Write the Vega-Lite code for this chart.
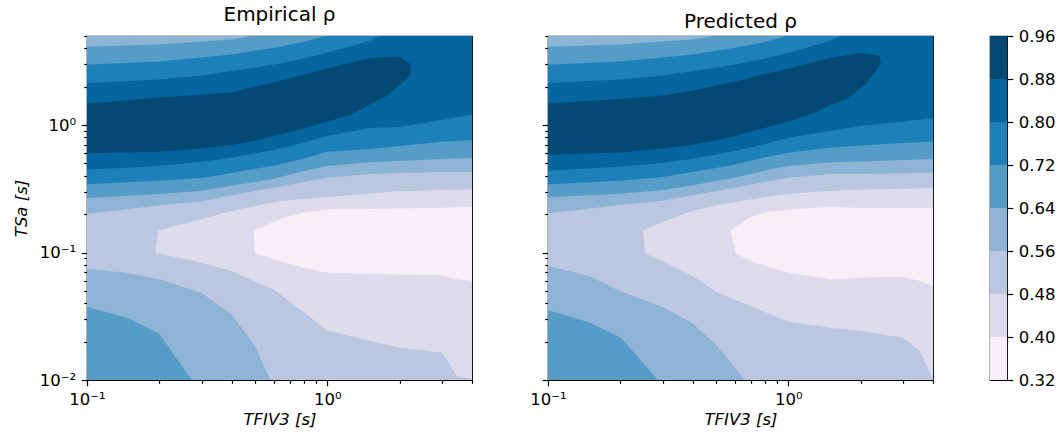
{
"$schema":"https://vega.github.io/schema/vega-lite/v6.json",
"padding":{"left":12,"top":4,"right":5,"bottom":5},
"background":"white",
"config":{
 "font":"DejaVu Sans",
 "view":{"stroke":"#000","strokeWidth":1.2},
 "axis":{"labelFont":"DejaVu Sans","titleFont":"DejaVu Sans","labelFontSize":16.5,"titleFontSize":16.5,"labelColor":"#000","titleColor":"#000","tickColor":"#000","tickWidth":1.2,"domain":false,"grid":false,"titleFontWeight":"normal","labelPadding":5.5},
 "title":{"font":"DejaVu Sans","fontSize":20,"fontWeight":"normal","color":"#000","offset":3}
},
"datasets":{
"bar":[{"lo":0.32,"hi":0.4},{"lo":0.4,"hi":0.48},{"lo":0.48,"hi":0.56},{"lo":0.56,"hi":0.64},{"lo":0.64,"hi":0.72},{"lo":0.72,"hi":0.8},{"lo":0.8,"hi":0.88},{"lo":0.88,"hi":0.96}],
"poly":[
{"s":"E","g":"Eb","lo":0.48,"i":0,"x":0.1,"y":0.01},{"s":"E","g":"Eb","lo":0.48,"i":1,"x":4,"y":0.01},{"s":"E","g":"Eb","lo":0.48,"i":2,"x":4,"y":5},{"s":"E","g":"Eb","lo":0.48,"i":3,"x":0.1,"y":5},
{"s":"E","g":"Eu56","lo":0.56,"i":0,"x":0.1,"y":0.2016},{"s":"E","g":"Eu56","lo":0.56,"i":1,"x":0.2,"y":0.234},{"s":"E","g":"Eu56","lo":0.56,"i":2,"x":0.3,"y":0.253},{"s":"E","g":"Eu56","lo":0.56,"i":3,"x":0.4,"y":0.281},{"s":"E","g":"Eu56","lo":0.56,"i":4,"x":0.5,"y":0.304},{"s":"E","g":"Eu56","lo":0.56,"i":5,"x":0.6,"y":0.3225},{"s":"E","g":"Eu56","lo":0.56,"i":6,"x":0.8,"y":0.359},{"s":"E","g":"Eu56","lo":0.56,"i":7,"x":1,"y":0.386},{"s":"E","g":"Eu56","lo":0.56,"i":8,"x":1.5,"y":0.413},{"s":"E","g":"Eu56","lo":0.56,"i":9,"x":2,"y":0.42},{"s":"E","g":"Eu56","lo":0.56,"i":10,"x":3,"y":0.428},{"s":"E","g":"Eu56","lo":0.56,"i":11,"x":4,"y":0.4305},{"s":"E","g":"Eu56","lo":0.56,"i":12,"x":4,"y":5},{"s":"E","g":"Eu56","lo":0.56,"i":13,"x":0.1,"y":5},
{"s":"E","g":"El56","lo":0.56,"i":0,"x":0.1,"y":0.0747},{"s":"E","g":"El56","lo":0.56,"i":1,"x":0.144,"y":0.0695},{"s":"E","g":"El56","lo":0.56,"i":2,"x":0.2,"y":0.0616},{"s":"E","g":"El56","lo":0.56,"i":3,"x":0.3,"y":0.0481},{"s":"E","g":"El56","lo":0.56,"i":4,"x":0.4,"y":0.0327},{"s":"E","g":"El56","lo":0.56,"i":5,"x":0.5,"y":0.01847},{"s":"E","g":"El56","lo":0.56,"i":6,"x":0.5788,"y":0.01},{"s":"E","g":"El56","lo":0.56,"i":7,"x":0.1,"y":0.01},
{"s":"E","g":"Eu64","lo":0.64,"i":0,"x":0.1,"y":0.268},{"s":"E","g":"Eu64","lo":0.64,"i":1,"x":0.2,"y":0.288},{"s":"E","g":"Eu64","lo":0.64,"i":2,"x":0.3,"y":0.305},{"s":"E","g":"Eu64","lo":0.64,"i":3,"x":0.4,"y":0.334},{"s":"E","g":"Eu64","lo":0.64,"i":4,"x":0.5,"y":0.357},{"s":"E","g":"Eu64","lo":0.64,"i":5,"x":0.6,"y":0.379},{"s":"E","g":"Eu64","lo":0.64,"i":6,"x":0.8,"y":0.436},{"s":"E","g":"Eu64","lo":0.64,"i":7,"x":1,"y":0.477},{"s":"E","g":"Eu64","lo":0.64,"i":8,"x":1.5,"y":0.51},{"s":"E","g":"Eu64","lo":0.64,"i":9,"x":2,"y":0.522},{"s":"E","g":"Eu64","lo":0.64,"i":10,"x":3,"y":0.541},{"s":"E","g":"Eu64","lo":0.64,"i":11,"x":4,"y":0.551},{"s":"E","g":"Eu64","lo":0.64,"i":12,"x":4,"y":5},{"s":"E","g":"Eu64","lo":0.64,"i":13,"x":0.4854,"y":5},{"s":"E","g":"Eu64","lo":0.64,"i":14,"x":0.4,"y":4.697},{"s":"E","g":"Eu64","lo":0.64,"i":15,"x":0.3,"y":4.532},{"s":"E","g":"Eu64","lo":0.64,"i":16,"x":0.2,"y":4.293},{"s":"E","g":"Eu64","lo":0.64,"i":17,"x":0.1,"y":4.116},
{"s":"E","g":"El64","lo":0.64,"i":0,"x":0.1,"y":0.0374},{"s":"E","g":"El64","lo":0.64,"i":1,"x":0.1487,"y":0.0305},{"s":"E","g":"El64","lo":0.64,"i":2,"x":0.2,"y":0.023},{"s":"E","g":"El64","lo":0.64,"i":3,"x":0.2729,"y":0.01},{"s":"E","g":"El64","lo":0.64,"i":4,"x":0.1,"y":0.01},
{"s":"E","g":"Eu72","lo":0.72,"i":0,"x":0.1,"y":0.344},{"s":"E","g":"Eu72","lo":0.72,"i":1,"x":0.2,"y":0.366},{"s":"E","g":"Eu72","lo":0.72,"i":2,"x":0.3,"y":0.384},{"s":"E","g":"Eu72","lo":0.72,"i":3,"x":0.4,"y":0.42},{"s":"E","g":"Eu72","lo":0.72,"i":4,"x":0.5,"y":0.4545},{"s":"E","g":"Eu72","lo":0.72,"i":5,"x":0.6,"y":0.48},{"s":"E","g":"Eu72","lo":0.72,"i":6,"x":0.8,"y":0.548},{"s":"E","g":"Eu72","lo":0.72,"i":7,"x":1,"y":0.618},{"s":"E","g":"Eu72","lo":0.72,"i":8,"x":1.5,"y":0.648},{"s":"E","g":"Eu72","lo":0.72,"i":9,"x":2,"y":0.684},{"s":"E","g":"Eu72","lo":0.72,"i":10,"x":3,"y":0.74},{"s":"E","g":"Eu72","lo":0.72,"i":11,"x":4,"y":0.763},{"s":"E","g":"Eu72","lo":0.72,"i":12,"x":4,"y":5},{"s":"E","g":"Eu72","lo":0.72,"i":13,"x":0.981,"y":5},{"s":"E","g":"Eu72","lo":0.72,"i":14,"x":0.8,"y":4.477},{"s":"E","g":"Eu72","lo":0.72,"i":15,"x":0.6,"y":4.042},{"s":"E","g":"Eu72","lo":0.72,"i":16,"x":0.5,"y":3.828},{"s":"E","g":"Eu72","lo":0.72,"i":17,"x":0.4,"y":3.583},{"s":"E","g":"Eu72","lo":0.72,"i":18,"x":0.3,"y":3.395},{"s":"E","g":"Eu72","lo":0.72,"i":19,"x":0.2,"y":3.158},{"s":"E","g":"Eu72","lo":0.72,"i":20,"x":0.1,"y":2.973},
{"s":"E","g":"Eu80","lo":0.8,"i":0,"x":0.1,"y":0.4463},{"s":"E","g":"Eu80","lo":0.8,"i":1,"x":0.2,"y":0.477},{"s":"E","g":"Eu80","lo":0.8,"i":2,"x":0.3,"y":0.516},{"s":"E","g":"Eu80","lo":0.8,"i":3,"x":0.4,"y":0.554},{"s":"E","g":"Eu80","lo":0.8,"i":4,"x":0.5,"y":0.6},{"s":"E","g":"Eu80","lo":0.8,"i":5,"x":0.6,"y":0.637},{"s":"E","g":"Eu80","lo":0.8,"i":6,"x":0.8,"y":0.727},{"s":"E","g":"Eu80","lo":0.8,"i":7,"x":1,"y":0.82},{"s":"E","g":"Eu80","lo":0.8,"i":8,"x":1.5,"y":0.947},{"s":"E","g":"Eu80","lo":0.8,"i":9,"x":2,"y":0.964},{"s":"E","g":"Eu80","lo":0.8,"i":10,"x":3,"y":1.094},{"s":"E","g":"Eu80","lo":0.8,"i":11,"x":4,"y":1.205},{"s":"E","g":"Eu80","lo":0.8,"i":12,"x":4,"y":5},{"s":"E","g":"Eu80","lo":0.8,"i":13,"x":1.636,"y":5},{"s":"E","g":"Eu80","lo":0.8,"i":14,"x":1.5,"y":4.585},{"s":"E","g":"Eu80","lo":0.8,"i":15,"x":1,"y":3.693},{"s":"E","g":"Eu80","lo":0.8,"i":16,"x":0.8,"y":3.334},{"s":"E","g":"Eu80","lo":0.8,"i":17,"x":0.6,"y":2.991},{"s":"E","g":"Eu80","lo":0.8,"i":18,"x":0.5,"y":2.816},{"s":"E","g":"Eu80","lo":0.8,"i":19,"x":0.4,"y":2.652},{"s":"E","g":"Eu80","lo":0.8,"i":20,"x":0.3,"y":2.452},{"s":"E","g":"Eu80","lo":0.8,"i":21,"x":0.2,"y":2.281},{"s":"E","g":"Eu80","lo":0.8,"i":22,"x":0.1,"y":2.135},
{"s":"E","g":"Eb88","lo":0.88,"i":0,"x":0.1,"y":1.479},{"s":"E","g":"Eb88","lo":0.88,"i":1,"x":0.2,"y":1.648},{"s":"E","g":"Eb88","lo":0.88,"i":2,"x":0.3,"y":1.74},{"s":"E","g":"Eb88","lo":0.88,"i":3,"x":0.4,"y":1.804},{"s":"E","g":"Eb88","lo":0.88,"i":4,"x":0.5,"y":2.011},{"s":"E","g":"Eb88","lo":0.88,"i":5,"x":0.6,"y":2.161},{"s":"E","g":"Eb88","lo":0.88,"i":6,"x":0.8,"y":2.497},{"s":"E","g":"Eb88","lo":0.88,"i":7,"x":1,"y":2.782},{"s":"E","g":"Eb88","lo":0.88,"i":8,"x":1.5,"y":3.354},{"s":"E","g":"Eb88","lo":0.88,"i":9,"x":2,"y":3.456},{"s":"E","g":"Eb88","lo":0.88,"i":10,"x":2.217,"y":3.009},{"s":"E","g":"Eb88","lo":0.88,"i":11,"x":2.217,"y":2.437},{"s":"E","g":"Eb88","lo":0.88,"i":12,"x":2,"y":2.072},{"s":"E","g":"Eb88","lo":0.88,"i":13,"x":1.773,"y":1.698},{"s":"E","g":"Eb88","lo":0.88,"i":14,"x":1.5,"y":1.452},{"s":"E","g":"Eb88","lo":0.88,"i":15,"x":1.267,"y":1.219},{"s":"E","g":"Eb88","lo":0.88,"i":16,"x":1,"y":1.068},{"s":"E","g":"Eb88","lo":0.88,"i":17,"x":0.8,"y":0.941},{"s":"E","g":"Eb88","lo":0.88,"i":18,"x":0.6,"y":0.82},{"s":"E","g":"Eb88","lo":0.88,"i":19,"x":0.5,"y":0.7536},{"s":"E","g":"Eb88","lo":0.88,"i":20,"x":0.4,"y":0.6967},{"s":"E","g":"Eb88","lo":0.88,"i":21,"x":0.3,"y":0.656},{"s":"E","g":"Eb88","lo":0.88,"i":22,"x":0.2,"y":0.618},{"s":"E","g":"Eb88","lo":0.88,"i":23,"x":0.1,"y":0.6},
{"s":"E","g":"Ev40","lo":0.4,"i":0,"x":4,"y":0.313},{"s":"E","g":"Ev40","lo":0.4,"i":1,"x":3,"y":0.309},{"s":"E","g":"Ev40","lo":0.4,"i":2,"x":2,"y":0.302},{"s":"E","g":"Ev40","lo":0.4,"i":3,"x":1.5,"y":0.291},{"s":"E","g":"Ev40","lo":0.4,"i":4,"x":1,"y":0.271},{"s":"E","g":"Ev40","lo":0.4,"i":5,"x":0.8,"y":0.263},{"s":"E","g":"Ev40","lo":0.4,"i":6,"x":0.6268,"y":0.253},{"s":"E","g":"Ev40","lo":0.4,"i":7,"x":0.5,"y":0.2315},{"s":"E","g":"Ev40","lo":0.4,"i":8,"x":0.4,"y":0.212},{"s":"E","g":"Ev40","lo":0.4,"i":9,"x":0.3,"y":0.183},{"s":"E","g":"Ev40","lo":0.4,"i":10,"x":0.1982,"y":0.149},{"s":"E","g":"Ev40","lo":0.4,"i":11,"x":0.192,"y":0.0993},{"s":"E","g":"Ev40","lo":0.4,"i":12,"x":0.2,"y":0.0985},{"s":"E","g":"Ev40","lo":0.4,"i":13,"x":0.3,"y":0.0832},{"s":"E","g":"Ev40","lo":0.4,"i":14,"x":0.4,"y":0.0716},{"s":"E","g":"Ev40","lo":0.4,"i":15,"x":0.5,"y":0.0594},{"s":"E","g":"Ev40","lo":0.4,"i":16,"x":0.6,"y":0.0511},{"s":"E","g":"Ev40","lo":0.4,"i":17,"x":0.8,"y":0.034},{"s":"E","g":"Ev40","lo":0.4,"i":18,"x":1,"y":0.0245},{"s":"E","g":"Ev40","lo":0.4,"i":19,"x":1.5,"y":0.02035},{"s":"E","g":"Ev40","lo":0.4,"i":20,"x":2,"y":0.0179},{"s":"E","g":"Ev40","lo":0.4,"i":21,"x":3,"y":0.0164},{"s":"E","g":"Ev40","lo":0.4,"i":22,"x":3.469,"y":0.01075},{"s":"E","g":"Ev40","lo":0.4,"i":23,"x":4,"y":0.01024},
{"s":"E","g":"Ev32","lo":0.32,"i":0,"x":4,"y":0.2288},{"s":"E","g":"Ev32","lo":0.32,"i":1,"x":3,"y":0.2247},{"s":"E","g":"Ev32","lo":0.32,"i":2,"x":2,"y":0.222},{"s":"E","g":"Ev32","lo":0.32,"i":3,"x":1.5,"y":0.2193},{"s":"E","g":"Ev32","lo":0.32,"i":4,"x":1,"y":0.218},{"s":"E","g":"Ev32","lo":0.32,"i":5,"x":0.8,"y":0.2053},{"s":"E","g":"Ev32","lo":0.32,"i":6,"x":0.69,"y":0.1933},{"s":"E","g":"Ev32","lo":0.32,"i":7,"x":0.6,"y":0.1745},{"s":"E","g":"Ev32","lo":0.32,"i":8,"x":0.4933,"y":0.149},{"s":"E","g":"Ev32","lo":0.32,"i":9,"x":0.5,"y":0.0993},{"s":"E","g":"Ev32","lo":0.32,"i":10,"x":0.6,"y":0.0889},{"s":"E","g":"Ev32","lo":0.32,"i":11,"x":0.668,"y":0.0832},{"s":"E","g":"Ev32","lo":0.32,"i":12,"x":0.8,"y":0.076},{"s":"E","g":"Ev32","lo":0.32,"i":13,"x":1,"y":0.0695},{"s":"E","g":"Ev32","lo":0.32,"i":14,"x":1.5,"y":0.0682},{"s":"E","g":"Ev32","lo":0.32,"i":15,"x":2,"y":0.0674},{"s":"E","g":"Ev32","lo":0.32,"i":16,"x":3,"y":0.0666},{"s":"E","g":"Ev32","lo":0.32,"i":17,"x":3.307,"y":0.0627},{"s":"E","g":"Ev32","lo":0.32,"i":18,"x":4,"y":0.0598},
{"s":"P","g":"Pb","lo":0.48,"i":0,"x":0.1,"y":0.01},{"s":"P","g":"Pb","lo":0.48,"i":1,"x":4,"y":0.01},{"s":"P","g":"Pb","lo":0.48,"i":2,"x":4,"y":5},{"s":"P","g":"Pb","lo":0.48,"i":3,"x":0.1,"y":5},
{"s":"P","g":"Pu56","lo":0.56,"i":0,"x":0.1,"y":0.203},{"s":"P","g":"Pu56","lo":0.56,"i":1,"x":0.2,"y":0.2357},{"s":"P","g":"Pu56","lo":0.56,"i":2,"x":0.3,"y":0.255},{"s":"P","g":"Pu56","lo":0.56,"i":3,"x":0.4,"y":0.281},{"s":"P","g":"Pu56","lo":0.56,"i":4,"x":0.5,"y":0.304},{"s":"P","g":"Pu56","lo":0.56,"i":5,"x":0.6,"y":0.3225},{"s":"P","g":"Pu56","lo":0.56,"i":6,"x":0.8,"y":0.359},{"s":"P","g":"Pu56","lo":0.56,"i":7,"x":1,"y":0.386},{"s":"P","g":"Pu56","lo":0.56,"i":8,"x":1.5,"y":0.413},{"s":"P","g":"Pu56","lo":0.56,"i":9,"x":2,"y":0.413},{"s":"P","g":"Pu56","lo":0.56,"i":10,"x":3,"y":0.418},{"s":"P","g":"Pu56","lo":0.56,"i":11,"x":4,"y":0.425},{"s":"P","g":"Pu56","lo":0.56,"i":12,"x":4,"y":5},{"s":"P","g":"Pu56","lo":0.56,"i":13,"x":0.1,"y":5},
{"s":"P","g":"Pl56","lo":0.56,"i":0,"x":0.1,"y":0.0784},{"s":"P","g":"Pl56","lo":0.56,"i":1,"x":0.1487,"y":0.0654},{"s":"P","g":"Pl56","lo":0.56,"i":2,"x":0.1982,"y":0.0499},{"s":"P","g":"Pl56","lo":0.56,"i":3,"x":0.3004,"y":0.0374},{"s":"P","g":"Pl56","lo":0.56,"i":4,"x":0.4,"y":0.0277},{"s":"P","g":"Pl56","lo":0.56,"i":5,"x":0.5,"y":0.019},{"s":"P","g":"Pl56","lo":0.56,"i":6,"x":0.6576,"y":0.01},{"s":"P","g":"Pl56","lo":0.56,"i":7,"x":0.1,"y":0.01},
{"s":"P","g":"Pu64","lo":0.64,"i":0,"x":0.1,"y":0.271},{"s":"P","g":"Pu64","lo":0.64,"i":1,"x":0.2,"y":0.289},{"s":"P","g":"Pu64","lo":0.64,"i":2,"x":0.3,"y":0.309},{"s":"P","g":"Pu64","lo":0.64,"i":3,"x":0.4,"y":0.338},{"s":"P","g":"Pu64","lo":0.64,"i":4,"x":0.5,"y":0.364},{"s":"P","g":"Pu64","lo":0.64,"i":5,"x":0.6,"y":0.386},{"s":"P","g":"Pu64","lo":0.64,"i":6,"x":0.8,"y":0.441},{"s":"P","g":"Pu64","lo":0.64,"i":7,"x":1,"y":0.477},{"s":"P","g":"Pu64","lo":0.64,"i":8,"x":1.5,"y":0.51},{"s":"P","g":"Pu64","lo":0.64,"i":9,"x":2,"y":0.519},{"s":"P","g":"Pu64","lo":0.64,"i":10,"x":3,"y":0.5315},{"s":"P","g":"Pu64","lo":0.64,"i":11,"x":4,"y":0.541},{"s":"P","g":"Pu64","lo":0.64,"i":12,"x":4,"y":5},{"s":"P","g":"Pu64","lo":0.64,"i":13,"x":0.4854,"y":5},{"s":"P","g":"Pu64","lo":0.64,"i":14,"x":0.4,"y":4.697},{"s":"P","g":"Pu64","lo":0.64,"i":15,"x":0.3,"y":4.532},{"s":"P","g":"Pu64","lo":0.64,"i":16,"x":0.2,"y":4.293},{"s":"P","g":"Pu64","lo":0.64,"i":17,"x":0.1,"y":4.116},
{"s":"P","g":"Pl64","lo":0.64,"i":0,"x":0.1,"y":0.0352},{"s":"P","g":"Pl64","lo":0.64,"i":1,"x":0.1487,"y":0.0282},{"s":"P","g":"Pl64","lo":0.64,"i":2,"x":0.2014,"y":0.0215},{"s":"P","g":"Pl64","lo":0.64,"i":3,"x":0.2862,"y":0.01},{"s":"P","g":"Pl64","lo":0.64,"i":4,"x":0.1,"y":0.01},
{"s":"P","g":"Pu72","lo":0.72,"i":0,"x":0.1,"y":0.344},{"s":"P","g":"Pu72","lo":0.72,"i":1,"x":0.2,"y":0.366},{"s":"P","g":"Pu72","lo":0.72,"i":2,"x":0.3,"y":0.391},{"s":"P","g":"Pu72","lo":0.72,"i":3,"x":0.4,"y":0.428},{"s":"P","g":"Pu72","lo":0.72,"i":4,"x":0.5,"y":0.46},{"s":"P","g":"Pu72","lo":0.72,"i":5,"x":0.6,"y":0.4915},{"s":"P","g":"Pu72","lo":0.72,"i":6,"x":0.8,"y":0.558},{"s":"P","g":"Pu72","lo":0.72,"i":7,"x":1,"y":0.607},{"s":"P","g":"Pu72","lo":0.72,"i":8,"x":1.5,"y":0.668},{"s":"P","g":"Pu72","lo":0.72,"i":9,"x":2,"y":0.6925},{"s":"P","g":"Pu72","lo":0.72,"i":10,"x":3,"y":0.722},{"s":"P","g":"Pu72","lo":0.72,"i":11,"x":4,"y":0.7445},{"s":"P","g":"Pu72","lo":0.72,"i":12,"x":4,"y":5},{"s":"P","g":"Pu72","lo":0.72,"i":13,"x":0.981,"y":5},{"s":"P","g":"Pu72","lo":0.72,"i":14,"x":0.8,"y":4.477},{"s":"P","g":"Pu72","lo":0.72,"i":15,"x":0.6,"y":4.042},{"s":"P","g":"Pu72","lo":0.72,"i":16,"x":0.5,"y":3.828},{"s":"P","g":"Pu72","lo":0.72,"i":17,"x":0.4,"y":3.583},{"s":"P","g":"Pu72","lo":0.72,"i":18,"x":0.3,"y":3.395},{"s":"P","g":"Pu72","lo":0.72,"i":19,"x":0.2,"y":3.158},{"s":"P","g":"Pu72","lo":0.72,"i":20,"x":0.1,"y":2.973},
{"s":"P","g":"Pu80","lo":0.8,"i":0,"x":0.1,"y":0.438},{"s":"P","g":"Pu80","lo":0.8,"i":1,"x":0.2,"y":0.471},{"s":"P","g":"Pu80","lo":0.8,"i":2,"x":0.3,"y":0.506},{"s":"P","g":"Pu80","lo":0.8,"i":3,"x":0.4,"y":0.544},{"s":"P","g":"Pu80","lo":0.8,"i":4,"x":0.5,"y":0.589},{"s":"P","g":"Pu80","lo":0.8,"i":5,"x":0.6,"y":0.625},{"s":"P","g":"Pu80","lo":0.8,"i":6,"x":0.8,"y":0.71},{"s":"P","g":"Pu80","lo":0.8,"i":7,"x":1,"y":0.7955},{"s":"P","g":"Pu80","lo":0.8,"i":8,"x":1.5,"y":0.903},{"s":"P","g":"Pu80","lo":0.8,"i":9,"x":2,"y":0.982},{"s":"P","g":"Pu80","lo":0.8,"i":10,"x":3,"y":1.068},{"s":"P","g":"Pu80","lo":0.8,"i":11,"x":4,"y":1.135},{"s":"P","g":"Pu80","lo":0.8,"i":12,"x":4,"y":5},{"s":"P","g":"Pu80","lo":0.8,"i":13,"x":1.636,"y":5},{"s":"P","g":"Pu80","lo":0.8,"i":14,"x":1.5,"y":4.585},{"s":"P","g":"Pu80","lo":0.8,"i":15,"x":1,"y":3.693},{"s":"P","g":"Pu80","lo":0.8,"i":16,"x":0.8,"y":3.334},{"s":"P","g":"Pu80","lo":0.8,"i":17,"x":0.6,"y":2.991},{"s":"P","g":"Pu80","lo":0.8,"i":18,"x":0.5,"y":2.816},{"s":"P","g":"Pu80","lo":0.8,"i":19,"x":0.4,"y":2.652},{"s":"P","g":"Pu80","lo":0.8,"i":20,"x":0.3,"y":2.452},{"s":"P","g":"Pu80","lo":0.8,"i":21,"x":0.2,"y":2.281},{"s":"P","g":"Pu80","lo":0.8,"i":22,"x":0.1,"y":2.135},
{"s":"P","g":"Pb88","lo":0.88,"i":0,"x":0.1,"y":1.479},{"s":"P","g":"Pb88","lo":0.88,"i":1,"x":0.2,"y":1.599},{"s":"P","g":"Pb88","lo":0.88,"i":2,"x":0.3,"y":1.709},{"s":"P","g":"Pb88","lo":0.88,"i":3,"x":0.4,"y":1.859},{"s":"P","g":"Pb88","lo":0.88,"i":4,"x":0.5,"y":2.047},{"s":"P","g":"Pb88","lo":0.88,"i":5,"x":0.6,"y":2.2},{"s":"P","g":"Pb88","lo":0.88,"i":6,"x":0.8,"y":2.527},{"s":"P","g":"Pb88","lo":0.88,"i":7,"x":1,"y":2.766},{"s":"P","g":"Pb88","lo":0.88,"i":8,"x":1.5,"y":3.374},{"s":"P","g":"Pb88","lo":0.88,"i":9,"x":2,"y":3.671},{"s":"P","g":"Pb88","lo":0.88,"i":10,"x":2.402,"y":3.498},{"s":"P","g":"Pb88","lo":0.88,"i":11,"x":2.425,"y":3.009},{"s":"P","g":"Pb88","lo":0.88,"i":12,"x":2.113,"y":2.097},{"s":"P","g":"Pb88","lo":0.88,"i":13,"x":1.745,"y":1.599},{"s":"P","g":"Pb88","lo":0.88,"i":14,"x":1.5,"y":1.435},{"s":"P","g":"Pb88","lo":0.88,"i":15,"x":1.267,"y":1.234},{"s":"P","g":"Pb88","lo":0.88,"i":16,"x":1,"y":1.068},{"s":"P","g":"Pb88","lo":0.88,"i":17,"x":0.8,"y":0.953},{"s":"P","g":"Pb88","lo":0.88,"i":18,"x":0.6,"y":0.82},{"s":"P","g":"Pb88","lo":0.88,"i":19,"x":0.5,"y":0.758},{"s":"P","g":"Pb88","lo":0.88,"i":20,"x":0.4,"y":0.701},{"s":"P","g":"Pb88","lo":0.88,"i":21,"x":0.3,"y":0.656},{"s":"P","g":"Pb88","lo":0.88,"i":22,"x":0.2,"y":0.6105},{"s":"P","g":"Pb88","lo":0.88,"i":23,"x":0.1,"y":0.585},
{"s":"P","g":"Pv40","lo":0.4,"i":0,"x":4,"y":0.3206},{"s":"P","g":"Pv40","lo":0.4,"i":1,"x":3,"y":0.3166},{"s":"P","g":"Pv40","lo":0.4,"i":2,"x":2,"y":0.311},{"s":"P","g":"Pv40","lo":0.4,"i":3,"x":1.5,"y":0.305},{"s":"P","g":"Pv40","lo":0.4,"i":4,"x":1,"y":0.288},{"s":"P","g":"Pv40","lo":0.4,"i":5,"x":0.8,"y":0.2725},{"s":"P","g":"Pv40","lo":0.4,"i":6,"x":0.6268,"y":0.253},{"s":"P","g":"Pv40","lo":0.4,"i":7,"x":0.5,"y":0.234},{"s":"P","g":"Pv40","lo":0.4,"i":8,"x":0.4,"y":0.212},{"s":"P","g":"Pv40","lo":0.4,"i":9,"x":0.3,"y":0.1735},{"s":"P","g":"Pv40","lo":0.4,"i":10,"x":0.248,"y":0.149},{"s":"P","g":"Pv40","lo":0.4,"i":11,"x":0.2545,"y":0.0981},{"s":"P","g":"Pv40","lo":0.4,"i":12,"x":0.3,"y":0.0858},{"s":"P","g":"Pv40","lo":0.4,"i":13,"x":0.4,"y":0.0654},{"s":"P","g":"Pv40","lo":0.4,"i":14,"x":0.5,"y":0.0493},{"s":"P","g":"Pv40","lo":0.4,"i":15,"x":0.6,"y":0.0427},{"s":"P","g":"Pv40","lo":0.4,"i":16,"x":0.8,"y":0.0342},{"s":"P","g":"Pv40","lo":0.4,"i":17,"x":1,"y":0.0287},{"s":"P","g":"Pv40","lo":0.4,"i":18,"x":1.5,"y":0.0257},{"s":"P","g":"Pv40","lo":0.4,"i":19,"x":2,"y":0.0244},{"s":"P","g":"Pv40","lo":0.4,"i":20,"x":3,"y":0.0215},{"s":"P","g":"Pv40","lo":0.4,"i":21,"x":3.525,"y":0.0169},{"s":"P","g":"Pv40","lo":0.4,"i":22,"x":4,"y":0.01012},
{"s":"P","g":"Pv32","lo":0.32,"i":0,"x":4,"y":0.2247},{"s":"P","g":"Pv32","lo":0.32,"i":1,"x":3,"y":0.2234},{"s":"P","g":"Pv32","lo":0.32,"i":2,"x":2,"y":0.2234},{"s":"P","g":"Pv32","lo":0.32,"i":3,"x":1.5,"y":0.2274},{"s":"P","g":"Pv32","lo":0.32,"i":4,"x":1,"y":0.218},{"s":"P","g":"Pv32","lo":0.32,"i":5,"x":0.8,"y":0.2065},{"s":"P","g":"Pv32","lo":0.32,"i":6,"x":0.69,"y":0.1876},{"s":"P","g":"Pv32","lo":0.32,"i":7,"x":0.575,"y":0.149},{"s":"P","g":"Pv32","lo":0.32,"i":8,"x":0.6035,"y":0.0981},{"s":"P","g":"Pv32","lo":0.32,"i":9,"x":0.712,"y":0.0848},{"s":"P","g":"Pv32","lo":0.32,"i":10,"x":1,"y":0.0695},{"s":"P","g":"Pv32","lo":0.32,"i":11,"x":1.5,"y":0.0616},{"s":"P","g":"Pv32","lo":0.32,"i":12,"x":2,"y":0.0635},{"s":"P","g":"Pv32","lo":0.32,"i":13,"x":2.402,"y":0.0642},{"s":"P","g":"Pv32","lo":0.32,"i":14,"x":3.043,"y":0.0642},{"s":"P","g":"Pv32","lo":0.32,"i":15,"x":3.525,"y":0.0598},{"s":"P","g":"Pv32","lo":0.32,"i":16,"x":4,"y":0.0546}
]},
"hconcat":[
 {"hconcat":[
  {"width":385,"height":344,"title":"Empirical ρ","data":{"name":"poly"},"transform":[{"filter":"datum.s=='E'"}],
   "encoding":{
    "x":{"field":"x","type":"quantitative","scale":{"type":"log","domain":[0.1,4],"nice":false},"axis":{"values":[0.1,0.2,0.3,0.4,0.5,0.6,0.7,0.8,0.9,1,2,3,4],"labelExpr":"datum.value==0.1?'10⁻¹':(datum.value==1?'10⁰':'')","tickSize":{"condition":{"test":"datum.value==0.1||datum.value==1","value":5.8},"value":3.3},"labelFlush":false,"labelOverlap":false,"title":"TFIV3 [s]","titleFontStyle":"italic"}},
    "y":{"field":"y","type":"quantitative","scale":{"type":"log","domain":[0.01,5],"nice":false},"axis":{"values":[0.01,0.02,0.03,0.04,0.05,0.06,0.07,0.08,0.09,0.1,0.2,0.3,0.4,0.5,0.6,0.7,0.8,0.9,1,2,3,4,5],"labelExpr":"datum.value==0.01?'10⁻²':(datum.value==0.1?'10⁻¹':(datum.value==1?'10⁰':''))","tickSize":{"condition":{"test":"datum.value==0.01||datum.value==0.1||datum.value==1","value":5.8},"value":3.3},"labelOverlap":false,"title":"TSa [s]","titleFontStyle":"italic","titlePadding":10}},
    "fill":{"field":"lo","type":"ordinal","scale":{"domain":[0.32,0.4,0.48,0.56,0.64,0.72,0.8,0.88],"range":["#f6eff7","#dedcec","#bbc7e0","#8db3d5","#559cc7","#1e80b8","#05659f","#034973"]},"legend":null},
    "detail":{"field":"g","type":"nominal"},
    "order":{"field":"i","type":"quantitative"}},
   "layer":[
    {"transform":[{"filter":"datum.lo==0.48"}],"mark":{"type":"line","interpolate":"linear-closed","strokeWidth":0,"clip":true}},
    {"transform":[{"filter":"datum.lo==0.56"}],"mark":{"type":"line","interpolate":"linear-closed","strokeWidth":0,"clip":true}},
    {"transform":[{"filter":"datum.lo==0.64"}],"mark":{"type":"line","interpolate":"linear-closed","strokeWidth":0,"clip":true}},
    {"transform":[{"filter":"datum.lo==0.72"}],"mark":{"type":"line","interpolate":"linear-closed","strokeWidth":0,"clip":true}},
    {"transform":[{"filter":"datum.lo==0.8"}],"mark":{"type":"line","interpolate":"linear-closed","strokeWidth":0,"clip":true}},
    {"transform":[{"filter":"datum.lo==0.88"}],"mark":{"type":"line","interpolate":"linear-closed","strokeWidth":0,"clip":true}},
    {"transform":[{"filter":"datum.lo==0.4"}],"mark":{"type":"line","interpolate":"linear-closed","strokeWidth":0,"clip":true}},
    {"transform":[{"filter":"datum.lo==0.32"}],"mark":{"type":"line","interpolate":"linear-closed","strokeWidth":0,"clip":true}}
   ]},
  {"width":385,"height":344,"title":"Predicted ρ","data":{"name":"poly"},"transform":[{"filter":"datum.s=='P'"}],
   "encoding":{
    "x":{"field":"x","type":"quantitative","scale":{"type":"log","domain":[0.1,4],"nice":false},"axis":{"values":[0.1,0.2,0.3,0.4,0.5,0.6,0.7,0.8,0.9,1,2,3,4],"labelExpr":"datum.value==0.1?'10⁻¹':(datum.value==1?'10⁰':'')","tickSize":{"condition":{"test":"datum.value==0.1||datum.value==1","value":5.8},"value":3.3},"labelFlush":false,"labelOverlap":false,"title":"TFIV3 [s]","titleFontStyle":"italic"}},
    "y":{"field":"y","type":"quantitative","scale":{"type":"log","domain":[0.01,5],"nice":false},"axis":{"values":[0.01,0.02,0.03,0.04,0.05,0.06,0.07,0.08,0.09,0.1,0.2,0.3,0.4,0.5,0.6,0.7,0.8,0.9,1,2,3,4,5],"labels":false,"tickSize":{"condition":{"test":"datum.value==0.01||datum.value==0.1||datum.value==1","value":5.8},"value":3.3},"title":null}},
    "fill":{"field":"lo","type":"ordinal","scale":{"domain":[0.32,0.4,0.48,0.56,0.64,0.72,0.8,0.88],"range":["#f6eff7","#dedcec","#bbc7e0","#8db3d5","#559cc7","#1e80b8","#05659f","#034973"]},"legend":null},
    "detail":{"field":"g","type":"nominal"},
    "order":{"field":"i","type":"quantitative"}},
   "layer":[
    {"transform":[{"filter":"datum.lo==0.48"}],"mark":{"type":"line","interpolate":"linear-closed","strokeWidth":0,"clip":true}},
    {"transform":[{"filter":"datum.lo==0.56"}],"mark":{"type":"line","interpolate":"linear-closed","strokeWidth":0,"clip":true}},
    {"transform":[{"filter":"datum.lo==0.64"}],"mark":{"type":"line","interpolate":"linear-closed","strokeWidth":0,"clip":true}},
    {"transform":[{"filter":"datum.lo==0.72"}],"mark":{"type":"line","interpolate":"linear-closed","strokeWidth":0,"clip":true}},
    {"transform":[{"filter":"datum.lo==0.8"}],"mark":{"type":"line","interpolate":"linear-closed","strokeWidth":0,"clip":true}},
    {"transform":[{"filter":"datum.lo==0.88"}],"mark":{"type":"line","interpolate":"linear-closed","strokeWidth":0,"clip":true}},
    {"transform":[{"filter":"datum.lo==0.4"}],"mark":{"type":"line","interpolate":"linear-closed","strokeWidth":0,"clip":true}},
    {"transform":[{"filter":"datum.lo==0.32"}],"mark":{"type":"line","interpolate":"linear-closed","strokeWidth":0,"clip":true}}
   ]}
 ],"spacing":76,"bounds":"flush"},
 {"width":17,"height":344,"data":{"name":"bar"},"mark":{"type":"rect"},
  "encoding":{
   "y":{"field":"lo","type":"quantitative","scale":{"domain":[0.32,0.96],"nice":false,"zero":false},"axis":{"orient":"right","values":[0.32,0.4,0.48,0.56,0.64,0.72,0.8,0.88,0.96],"format":".2f","tickSize":5.8,"title":null}},
   "y2":{"field":"hi"},
   "fill":{"field":"lo","type":"ordinal","scale":{"domain":[0.32,0.4,0.48,0.56,0.64,0.72,0.8,0.88],"range":["#f6eff7","#dedcec","#bbc7e0","#8db3d5","#559cc7","#1e80b8","#05659f","#034973"]},"legend":null}}}
],
"spacing":54
}
